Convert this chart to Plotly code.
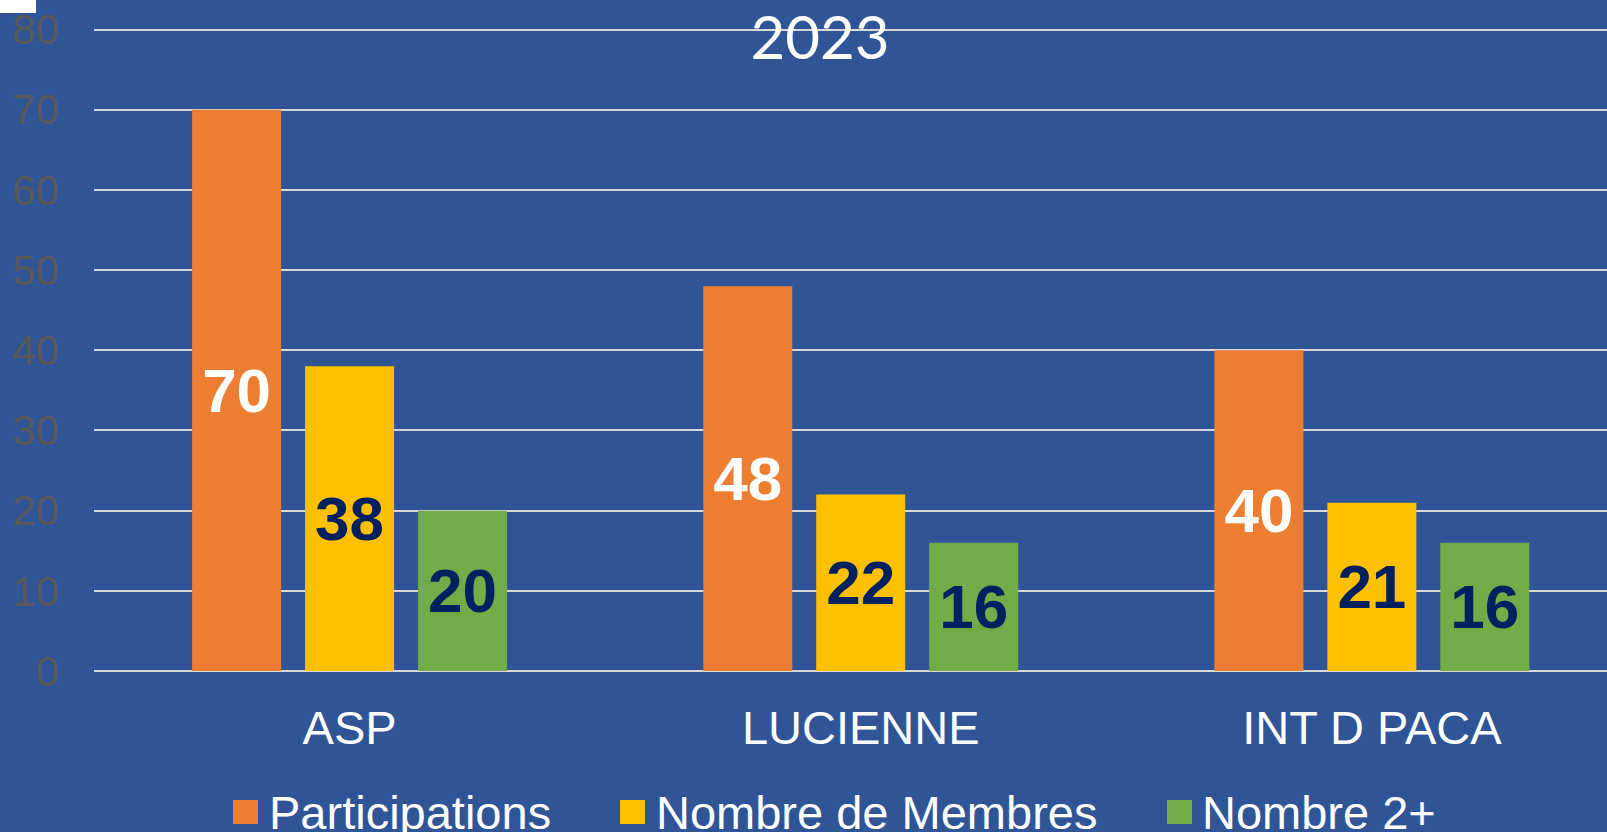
import plotly.graph_objects as go

categories = ["ASP", "LUCIENNE", "INT D PACA"]
participations = [70, 48, 40]
membres = [38, 22, 21]
nombre2 = [20, 16, 16]
series_names = ["Participations", "Nombre de Membres", "Nombre 2+"]
y_ticks = [0, 10, 20, 30, 40, 50, 60, 70, 80]

colors = ["#ED7D31", "#FFC000", "#70AD47"]
label_colors = ["#FFFFFF", "#002060", "#002060"]
BG = "#2F5597"
FONT = "Liberation Sans, Arial, sans-serif"

W, H = 1607, 832
Y_MAX = 80.2
L, R, T, B = 94, 0, 28, 161
PW, PH = W - L - R, H - T - B


def px_x(x):
    return (x - L) / PW


def px_y(y):
    return (H - B - y) / PH


fig = go.Figure()
all_vals = [participations, membres, nombre2]
for name, vals, col, lcol in zip(series_names, all_vals, colors, label_colors):
    fig.add_trace(go.Bar(
        x=categories, y=vals, name=name,
        marker=dict(color=col, line=dict(width=0)),
        text=vals, texttemplate="<b>%{y}</b>",
        textposition="inside", insidetextanchor="middle", textangle=0,
        textfont=dict(family=FONT, size=62, color=lcol),
        constraintext="none", cliponaxis=False,
        showlegend=False, hoverinfo="x+y+name",
    ))

bargap = 0.337
bargroupgap = 0.212
x_range = [-0.5, 2.46]

annotations = []
# manual legend
legend_items = [(233, 270), (620, 657), (1167, 1203)]
shapes = []
for (sx, tx), name, col in zip(legend_items, series_names, colors):
    shapes.append(dict(type="rect", xref="paper", yref="paper",
                       x0=px_x(sx), x1=px_x(sx + 25), y0=px_y(824), y1=px_y(800),
                       fillcolor=col, line=dict(width=0), layer="above"))
    annotations.append(dict(
        x=px_x(tx - 3), y=px_y(812), xref="paper", yref="paper", text=name,
        showarrow=False, xanchor="left", yanchor="middle",
        font=dict(family=FONT, size=47, color="#FFFFFF"),
    ))

# small white patch in the top-left corner of the original
shapes.append(dict(type="rect", xref="paper", yref="paper",
                   x0=px_x(0), x1=px_x(36), y0=px_y(13), y1=px_y(0),
                   fillcolor="#FFFFFF", line=dict(width=0), layer="above"))

fig.update_layout(
    width=W, height=H,
    paper_bgcolor=BG, plot_bgcolor=BG,
    margin=dict(l=L, r=R, t=T, b=B, pad=0),
    barmode="group", bargap=bargap, bargroupgap=bargroupgap,
    title=dict(text="2023", x=820 / W, xref="container", xanchor="center",
               y=1 - 38 / H, yref="container", yanchor="middle",
               font=dict(family="Lato, Open Sans, sans-serif", size=60, color="#FFFFFF")),
    xaxis=dict(range=x_range, showgrid=False, zeroline=False, showline=False,
               ticks="", tickfont=dict(family=FONT, size=47, color="#FFFFFF"),
               ticklabelstandoff=25),
    yaxis=dict(range=[0, Y_MAX], tickvals=y_ticks, showgrid=True,
               gridcolor="#D9D9D9", gridwidth=2, zeroline=True,
               zerolinecolor="#D9D9D9", zerolinewidth=2, showline=False,
               ticks="", tickfont=dict(family=FONT, size=42, color="#595959"),
               ticklabelstandoff=34),
    uniformtext=dict(mode=False),
    annotations=annotations, shapes=shapes, showlegend=False,
)

fig.write_html(
    "out.html",
    config={"displayModeBar": False},
    post_script="document.body.style.margin='0';document.body.style.overflow='hidden';",
)
